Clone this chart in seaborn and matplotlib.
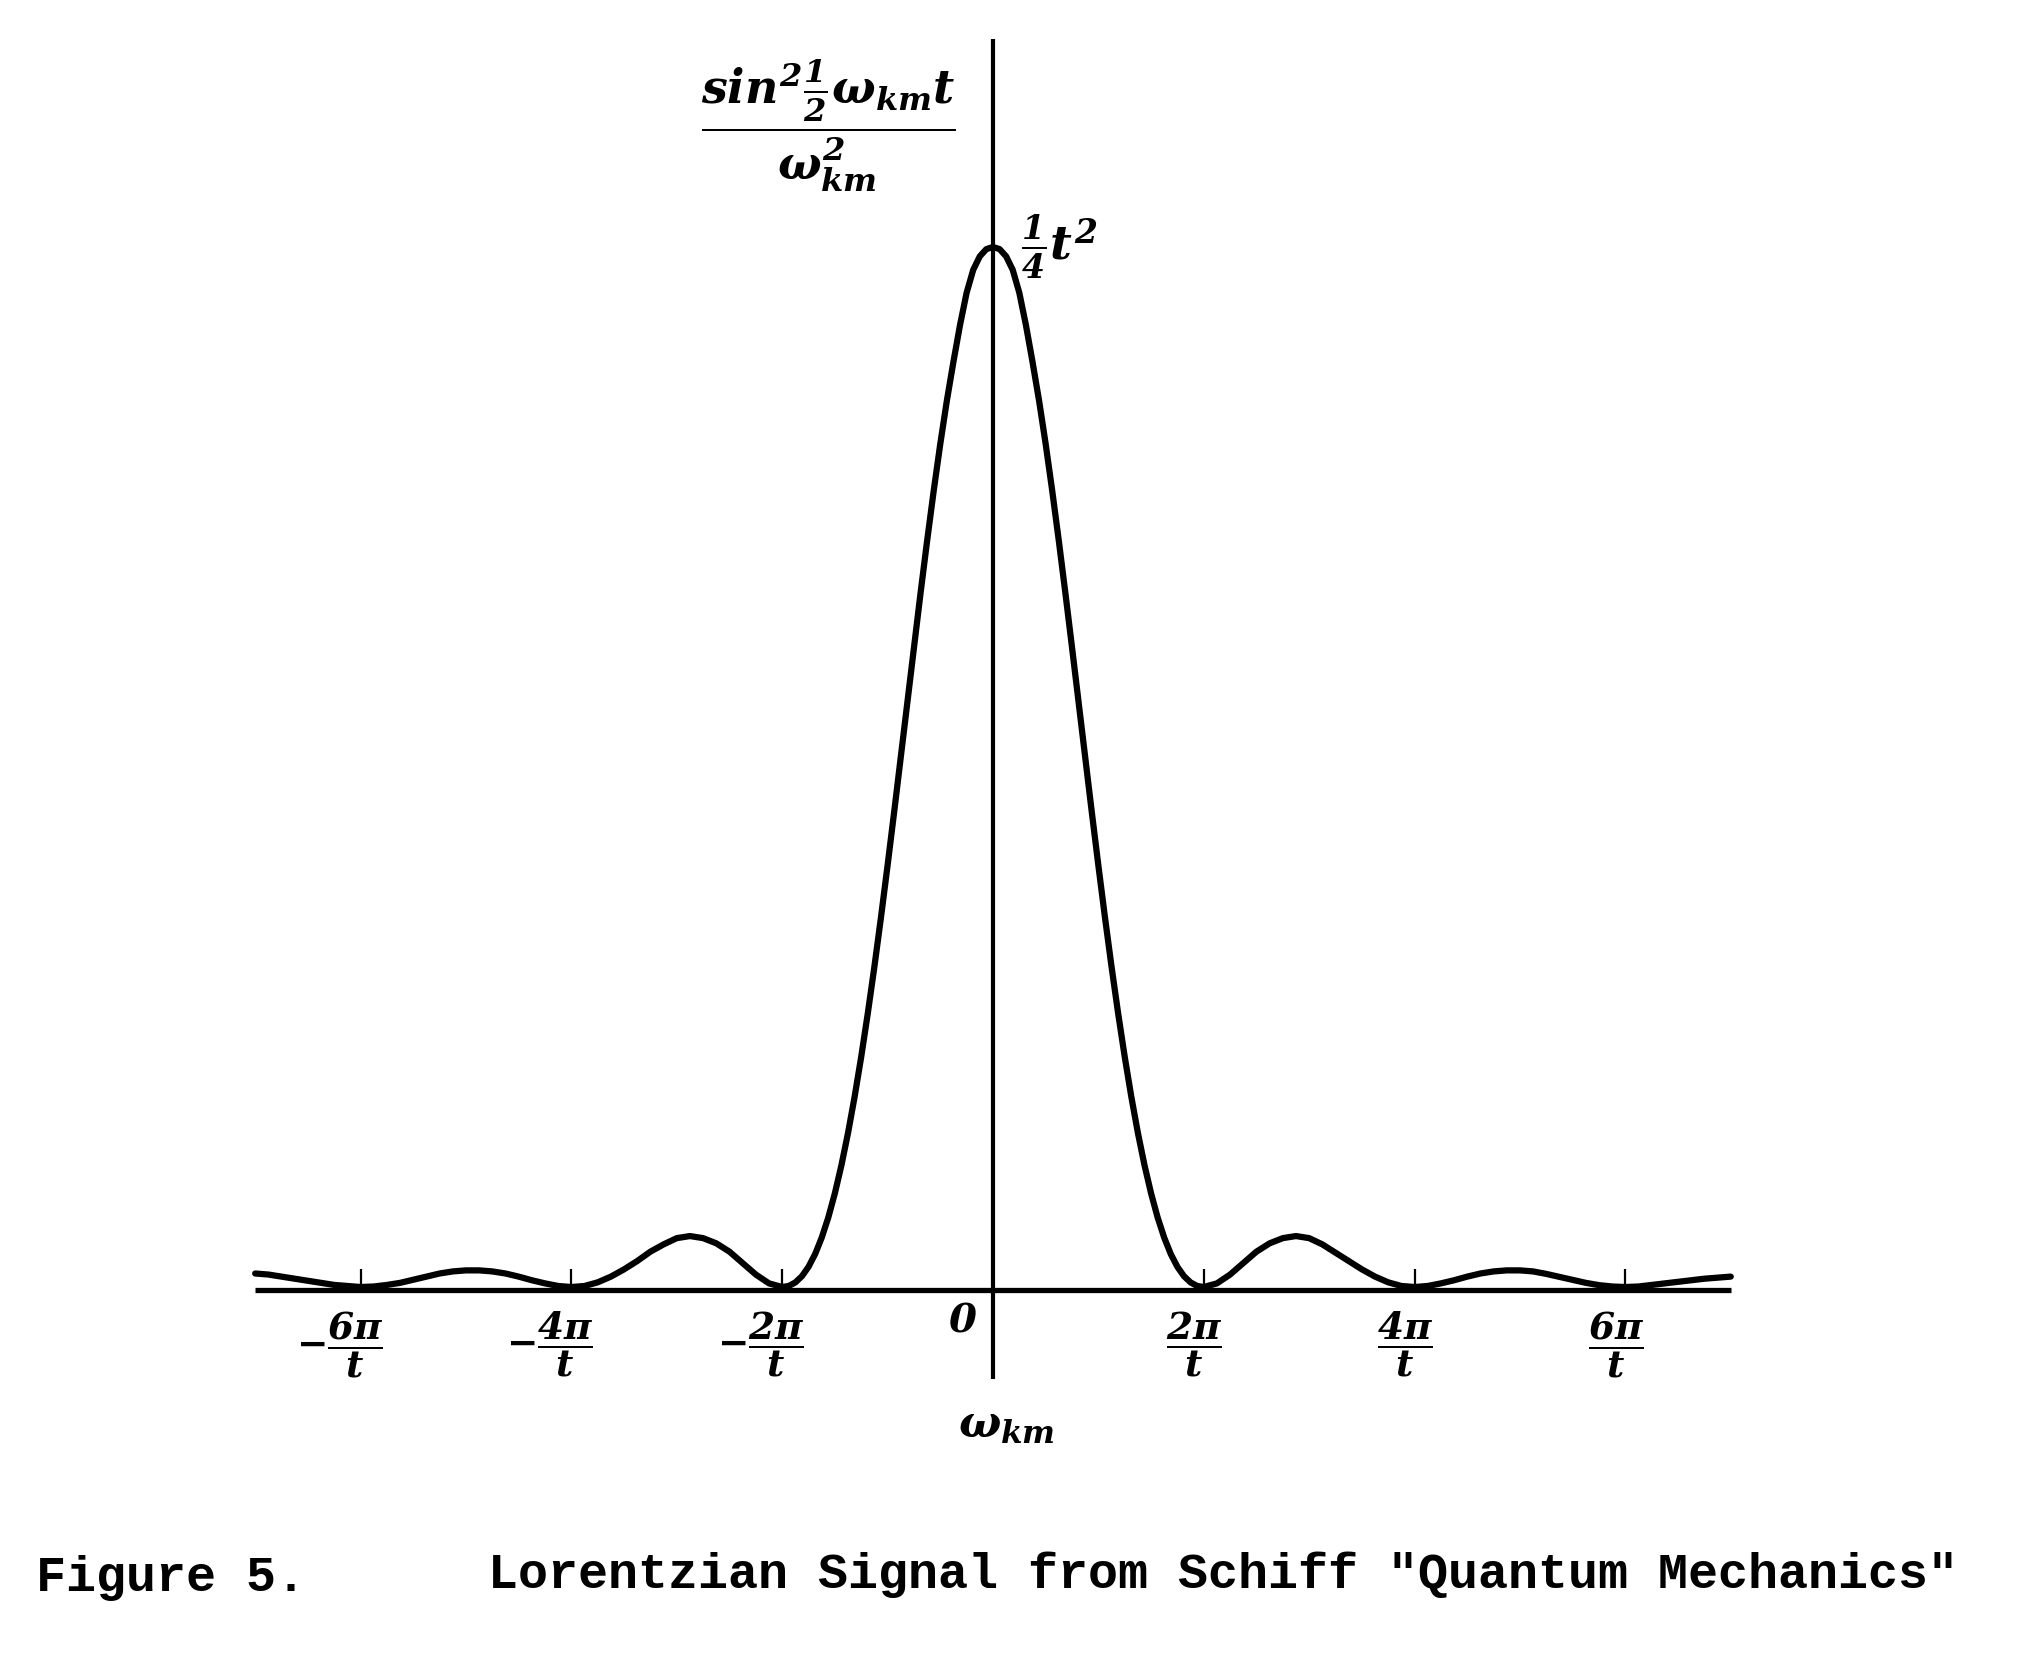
import numpy as np
import pandas as pd
import matplotlib
matplotlib.use("Agg")
import matplotlib.pyplot as plt
import seaborn as sns

# ---------------------------------------------------------------------------
# DATA
# omega in units of pi/t, signal in units of t^2/4 (peak = 1)
# ---------------------------------------------------------------------------
omega_left = [-7.0, -6.875, -6.75, -6.625, -6.5, -6.375, -6.25, -6.125, -6.0,
              -5.875, -5.75, -5.625, -5.5, -5.375, -5.25, -5.125, -5.0,
              -4.875, -4.75, -4.625, -4.5, -4.375, -4.25, -4.125, -4.0,
              -3.875, -3.75, -3.625, -3.5, -3.375, -3.25, -3.125, -3.0,
              -2.875, -2.75, -2.625, -2.5, -2.375, -2.25, -2.125]
signal_left = [0.013, 0.012, 0.010, 0.008, 0.006, 0.004, 0.002, 0.001, 0.000,
               0.0005, 0.002, 0.004, 0.007, 0.010, 0.013, 0.015, 0.016,
               0.016, 0.015, 0.013, 0.010, 0.0065, 0.0035, 0.001, 0.000,
               0.001, 0.0045, 0.010, 0.017, 0.025, 0.034, 0.041, 0.047,
               0.049, 0.047, 0.042, 0.034, 0.023, 0.012, 0.0035]

omega_main = [-2.0, -1.9375, -1.875, -1.8125, -1.75, -1.6875, -1.625, -1.5625,
              -1.5, -1.4375, -1.375, -1.3125, -1.25, -1.1875, -1.125, -1.0625,
              -1.0, -0.9375, -0.875, -0.8125, -0.75, -0.6875, -0.625, -0.5625,
              -0.5, -0.4375, -0.375, -0.3125, -0.25, -0.1875, -0.125, -0.0625,
              0.0,
              0.0625, 0.125, 0.1875, 0.25, 0.3125, 0.375, 0.4375, 0.5,
              0.5625, 0.625, 0.6875, 0.75, 0.8125, 0.875, 0.9375, 1.0,
              1.0625, 1.125, 1.1875, 1.25, 1.3125, 1.375, 1.4375, 1.5,
              1.5625, 1.625, 1.6875, 1.75, 1.8125, 1.875, 1.9375, 2.0]
signal_main = [0.000, 0.001, 0.0044, 0.0104, 0.0194, 0.0316, 0.0474, 0.0668,
               0.0901, 0.1172, 0.1482, 0.1830, 0.2214, 0.2632, 0.3080, 0.3555,
               0.4053, 0.4567, 0.5092, 0.5622, 0.6150, 0.6669, 0.7173, 0.7654,
               0.8106, 0.8522, 0.8897, 0.925, 0.956, 0.978, 0.991, 0.998,
               1.000,
               0.998, 0.991, 0.978, 0.956, 0.925, 0.8897, 0.8522, 0.8106,
               0.7654, 0.7173, 0.6669, 0.6150, 0.5622, 0.5092, 0.4567, 0.4053,
               0.3555, 0.3080, 0.2632, 0.2214, 0.1830, 0.1482, 0.1172, 0.0901,
               0.0668, 0.0474, 0.0316, 0.0194, 0.0104, 0.0044, 0.001, 0.000]

omega_right = [2.125, 2.25, 2.375, 2.5, 2.625, 2.75, 2.875, 3.0,
               3.125, 3.25, 3.375, 3.5, 3.625, 3.75, 3.875, 4.0,
               4.125, 4.25, 4.375, 4.5, 4.625, 4.75, 4.875, 5.0,
               5.125, 5.25, 5.375, 5.5, 5.625, 5.75, 5.875, 6.0,
               6.125, 6.25, 6.375, 6.5, 6.625, 6.75, 6.875, 7.0]
signal_right = [0.0035, 0.012, 0.023, 0.034, 0.042, 0.047, 0.049, 0.047,
                0.041, 0.033, 0.025, 0.017, 0.010, 0.0045, 0.001, 0.000,
                0.001, 0.0035, 0.0065, 0.010, 0.013, 0.015, 0.016, 0.016,
                0.015, 0.0126, 0.0097, 0.0067, 0.004, 0.0018, 0.0005, 0.000,
                0.0005, 0.002, 0.0035, 0.005, 0.0065, 0.008, 0.009, 0.010]

tick_pos = [-6, -4, -2, 2, 4, 6]
tick_labels = [r"$-\dfrac{6\pi}{t}$", r"$-\dfrac{4\pi}{t}$", r"$-\dfrac{2\pi}{t}$",
               r"$\dfrac{2\pi}{t}$", r"$\dfrac{4\pi}{t}$", r"$\dfrac{6\pi}{t}$"]

y_label = r"$\dfrac{sin^2\frac{1}{2}\omega_{km}t}{\omega^2_{km}}$"
x_label = r"$\omega_{km}$"
peak_label = r"$\frac{1}{4}t^2$"
caption_left = "Figure 5."
caption_right = 'Lorentzian Signal from Schiff "Quantum Mechanics"'

df = pd.DataFrame({
    "omega": omega_left + omega_main + omega_right,
    "signal": signal_left + signal_main + signal_right,
})

# ---------------------------------------------------------------------------
# STYLE
# ---------------------------------------------------------------------------
sns.set_theme(style="white")
plt.rcParams["font.family"] = ["DejaVu Serif"]
plt.rcParams["text.color"] = "black"
plt.rcParams["mathtext.fontset"] = "custom"
plt.rcParams["mathtext.it"] = "DejaVu Serif:italic:bold"
plt.rcParams["mathtext.rm"] = "DejaVu Serif:italic:bold"
plt.rcParams["mathtext.bf"] = "DejaVu Serif:italic:bold"

fig = plt.figure(figsize=(20.4, 16.79), dpi=100)
ax = fig.add_axes([0, 0, 1, 1])
ax.set_xlim(-9.421, 9.934)
ax.set_ylim(-0.3769, 1.2375)
ax.set_axis_off()

# curve
sns.lineplot(data=df, x="omega", y="signal", ax=ax, color="black",
             linewidth=4.5, sort=False, estimator=None, legend=False,
             solid_joinstyle="round", solid_capstyle="round")

# baseline, vertical axis and small ticks
ax.hlines(-0.003, df["omega"].min(), df["omega"].max(), color="black", linewidth=3.8)
ax.vlines(0, -0.088, 1.2, color="black", linewidth=3.0)
ax.vlines(tick_pos, -0.003, 0.017, color="black", linewidth=1.6)

for pos, lab in zip(tick_pos, tick_labels):
    shift = -0.2 if pos < 0 else -0.09
    ax.text(pos + shift, -0.055, lab, ha="center", va="center", fontsize=27,
            color="black")

ax.text(-0.285, -0.033, "$0$", ha="center", va="center", fontsize=29, color="black")
ax.text(0.13, -0.132, x_label, ha="center", va="center", fontsize=32, color="black")
ax.text(-1.56, 1.117, y_label, ha="center", va="center", fontsize=33, color="black")
ax.text(0.27, 1.0, peak_label, ha="left", va="center", fontsize=34, color="black")

fig.text(36 / 2040, 0.060, caption_left, family="Liberation Mono",
         weight="bold", fontsize=36, va="center", ha="left", color="black")
fig.text(488 / 2040, 0.062, caption_right, family="Liberation Mono",
         weight="bold", fontsize=36, va="center", ha="left", color="black")

fig.savefig("out.png", dpi=100, facecolor="white")
